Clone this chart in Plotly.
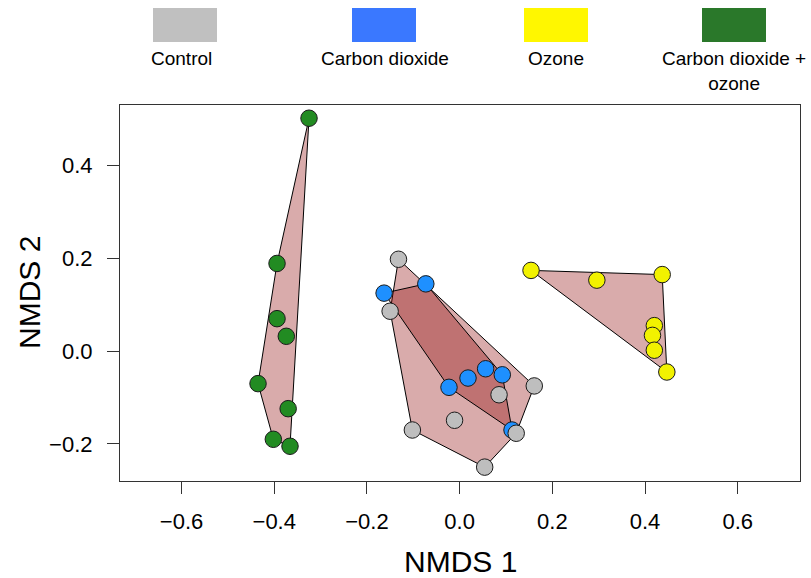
import plotly.graph_objects as go

# ---- data (NMDS scores) ----
control_x = [-0.132, -0.150, 0.085, 0.161, -0.011, -0.102, 0.122, 0.054]
control_y = [0.198, 0.086, -0.094, -0.075, -0.149, -0.170, -0.177, -0.250]

co2_x = [-0.163, -0.073, -0.023, 0.018, 0.056, 0.092, 0.113]
co2_y = [0.125, 0.145, -0.078, -0.058, -0.038, -0.051, -0.170]

ozone_x = [0.154, 0.296, 0.437, 0.420, 0.416, 0.420, 0.447]
ozone_y = [0.174, 0.153, 0.165, 0.055, 0.034, 0.002, -0.045]

co2o3_x = [-0.325, -0.394, -0.394, -0.374, -0.435, -0.370, -0.402, -0.366]
co2o3_y = [0.502, 0.189, 0.070, 0.032, -0.070, -0.124, -0.190, -0.205]

group_names = ["Control", "Carbon dioxide", "Ozone", "Carbon dioxide +<br>ozone"]
point_colors = ["#BEBEBE", "#1E90FF", "#F2F200", "#228B22"]
legend_colors = ["#C0C0C0", "#3A78FF", "#FFF700", "#2A782A"]

x_ticks = [-0.6, -0.4, -0.2, 0.0, 0.2, 0.4, 0.6]
y_ticks = [-0.2, 0.0, 0.2, 0.4]

FONT = "Liberation Sans, Arial, sans-serif"


def hull(xs, ys):
    pts = sorted(set(zip(xs, ys)))
    if len(pts) < 3:
        return pts

    def cross(o, a, b):
        return (a[0] - o[0]) * (b[1] - o[1]) - (a[1] - o[1]) * (b[0] - o[0])

    lower, upper = [], []
    for p in pts:
        while len(lower) >= 2 and cross(lower[-2], lower[-1], p) <= 0:
            lower.pop()
        lower.append(p)
    for p in reversed(pts):
        while len(upper) >= 2 and cross(upper[-2], upper[-1], p) <= 0:
            upper.pop()
        upper.append(p)
    h = lower[:-1] + upper[:-1]
    return h + [h[0]]


groups = [
    (control_x, control_y),
    (co2_x, co2_y),
    (ozone_x, ozone_y),
    (co2o3_x, co2o3_y),
]

fig = go.Figure()

# hull polygons
for gx, gy in [groups[3], groups[2], groups[0], groups[1]]:
    h = hull(gx, gy)
    fig.add_trace(go.Scatter(
        x=[p[0] for p in h], y=[p[1] for p in h],
        mode="lines", fill="toself",
        fillcolor="rgba(139,0,0,0.33)",
        line=dict(color="black", width=1),
        hoverinfo="skip", showlegend=False,
    ))

# points
for idx in [3, 2, 1, 0]:
    gx, gy = groups[idx]
    fig.add_trace(go.Scatter(
        x=gx, y=gy, mode="markers",
        marker=dict(size=16.5, color=point_colors[idx],
                    line=dict(color="#1a1a1a", width=1)),
        name=group_names[idx], showlegend=False,
    ))

# legend drawn as boxes + labels (above the plot)
W, H = 811, 578
L, R, T, B = 120, 11, 105, 97
pw, ph = W - L - R, H - T - B


def px2paper_x(px):
    return (px - L) / pw


def px2paper_y(py):
    return (H - B - py) / ph


rect_left = [153, 352, 524, 702]
label_cx = [181, 385, 556, 734]
for i in range(4):
    fig.add_shape(type="rect", xref="paper", yref="paper",
                  x0=px2paper_x(rect_left[i]), x1=px2paper_x(rect_left[i] + 64),
                  y0=px2paper_y(42), y1=px2paper_y(8),
                  fillcolor=legend_colors[i], line=dict(width=0))
    fig.add_annotation(xref="paper", yref="paper",
                       x=px2paper_x(label_cx[i]), y=px2paper_y(46),
                       xanchor="center", yanchor="top",
                       text=group_names[i], showarrow=False,
                       font=dict(family=FONT, size=19, color="black"))

# axis titles
fig.add_annotation(xref="paper", yref="paper", x=0.5, y=px2paper_y(561),
                   xanchor="center", yanchor="middle", text="NMDS 1",
                   showarrow=False, font=dict(family=FONT, size=30, color="black"))
fig.add_annotation(xref="paper", yref="paper", x=px2paper_x(29), y=0.5,
                   xanchor="center", yanchor="middle", text="NMDS 2",
                   textangle=-90, showarrow=False,
                   font=dict(family=FONT, size=30, color="black"))

axis_common = dict(
    showgrid=False, zeroline=False, showline=True, mirror=True,
    linecolor="#333333", linewidth=1.2,
    ticks="outside", ticklen=12, tickwidth=1.2, tickcolor="#333333",
    tickfont=dict(family=FONT, size=22, color="black"),
)

fig.update_layout(
    width=W, height=H,
    margin=dict(l=L, r=R, t=T, b=B, autoexpand=False),
    paper_bgcolor="white", plot_bgcolor="white",
    xaxis=dict(range=[-0.7328, 0.7343], tickvals=x_ticks,
               ticktext=[f"{v:.1f}".replace("-", "\u2212") for v in x_ticks],
               ticklabelstandoff=8, **axis_common),
    yaxis=dict(range=[-0.2799, 0.5305], tickvals=y_ticks,
               ticktext=[f"{v:.1f}".replace("-", "\u2212") for v in y_ticks],
               ticklabelstandoff=10, **axis_common),
    showlegend=False,
)

fig.write_html("out.html")
